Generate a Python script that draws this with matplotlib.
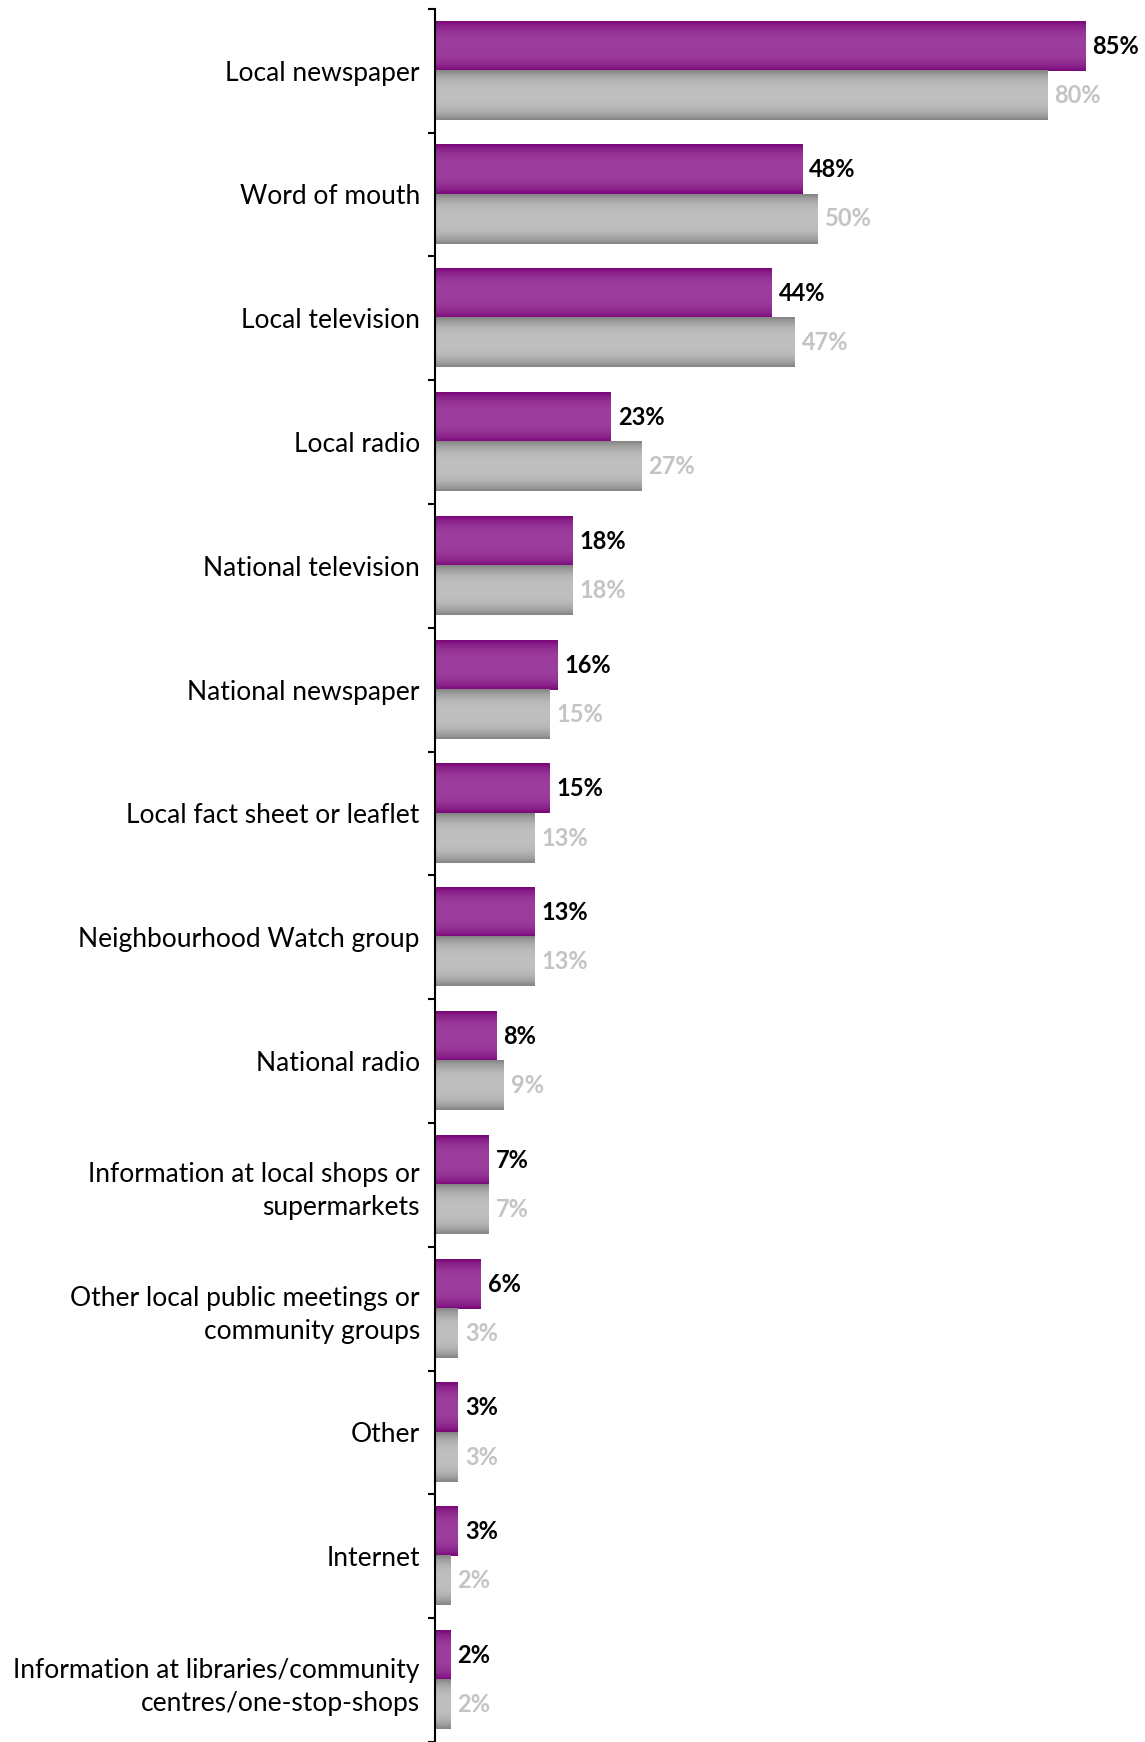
import numpy as np
import matplotlib.pyplot as plt
from matplotlib.colors import LinearSegmentedColormap

categories = ["Local newspaper", "Word of mouth", "Local television", "Local radio",
              "National television", "National newspaper", "Local fact sheet or leaflet",
              "Neighbourhood Watch group", "National radio",
              "Information at local shops or\nsupermarkets",
              "Other local public meetings or\ncommunity groups",
              "Other", "Internet",
              "Information at libraries/community\ncentres/one-stop-shops"]
purple_vals = [85, 48, 44, 23, 18, 16, 15, 13, 8, 7, 6, 3, 3, 2]
grey_vals = [80, 50, 47, 27, 18, 15, 13, 13, 9, 7, 3, 3, 2, 2]

plt.rcParams['font.family'] = ['Lato', 'DejaVu Sans']

fig = plt.figure(figsize=(11.45, 17.42), dpi=100)
ax = fig.add_axes([0.38, 0.0, 0.61, 0.995])

y = np.arange(len(categories))
h = 0.397
b1 = ax.barh(y - h / 2, purple_vals, height=h, color='#9b3b9b')
b2 = ax.barh(y + h / 2, grey_vals, height=h, color='#bdbdbd')

# vertical gradient: dark edges, light middle
t = np.linspace(-1, 1, 64)
prof = (1 - np.abs(t) ** 3)[:, None]
pcmap = LinearSegmentedColormap.from_list('p', ['#7a087a', '#9c3d9c'])
gcmap = LinearSegmentedColormap.from_list('g', ['#848484', '#bfbfbf'])
for bars, cm in ((b1, pcmap), (b2, gcmap)):
    for p in bars:
        x0, y0, w, hh = p.get_x(), p.get_y(), p.get_width(), p.get_height()
        ax.imshow(prof, cmap=cm, aspect='auto', extent=(x0, x0 + w, y0 + hh, y0),
                  vmin=0, vmax=1, zorder=2, interpolation='bilinear')
        p.set_visible(False)

for i in range(len(categories)):
    ax.text(purple_vals[i] + 0.9, y[i] - h / 2, f"{purple_vals[i]}%", va='center',
            ha='left', fontsize=17, fontweight='bold', color='black')
    ax.text(grey_vals[i] + 0.9, y[i] + h / 2, f"{grey_vals[i]}%", va='center',
            ha='left', fontsize=17, fontweight='bold', color='#c4c4c4')

ax.set_xlim(0, 91.3)
ax.set_ylim(len(categories) - 0.5, -0.5)
ax.set_yticks(y)
ax.set_yticklabels(categories, fontsize=19, ha='right', linespacing=1.4)
ax.tick_params(axis='y', which='major', length=0, pad=11)
ax.set_yticks(np.arange(len(categories) + 1) - 0.5, minor=True)
ax.tick_params(axis='y', which='minor', length=5, width=1.5, direction='out')
ax.set_xticks([])
for s in ['top', 'right', 'bottom']:
    ax.spines[s].set_visible(False)
ax.spines['left'].set_linewidth(1.5)

fig.savefig('out.png', dpi=100)
